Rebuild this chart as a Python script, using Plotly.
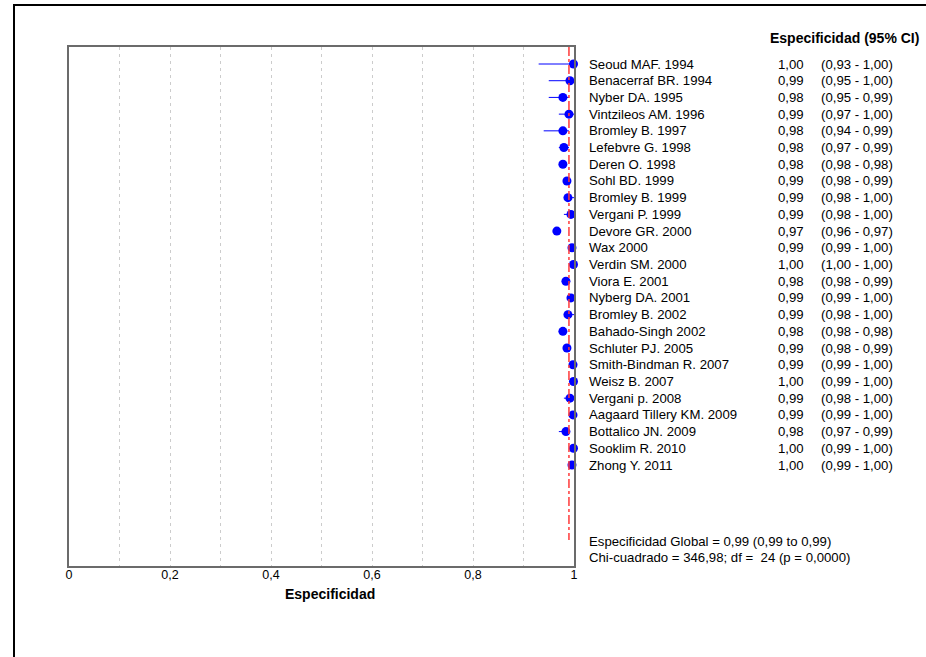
import plotly.graph_objects as go

studies = ["Seoud MAF. 1994", "Benacerraf BR. 1994", "Nyber DA. 1995", "Vintzileos AM. 1996",
           "Bromley B. 1997", "Lefebvre G. 1998", "Deren O. 1998", "Sohl BD. 1999",
           "Bromley B. 1999", "Vergani P. 1999", "Devore GR. 2000", "Wax 2000",
           "Verdin SM. 2000", "Viora E. 2001", "Nyberg DA. 2001", "Bromley B. 2002",
           "Bahado-Singh 2002", "Schluter PJ. 2005", "Smith-Bindman R. 2007", "Weisz B. 2007",
           "Vergani p. 2008", "Aagaard Tillery KM. 2009", "Bottalico JN. 2009", "Sooklim R. 2010",
           "Zhong Y. 2011"]
# point estimates as drawn
spec = [0.999, 0.992, 0.978, 0.990, 0.978, 0.980, 0.978, 0.986, 0.988, 0.994, 0.966, 0.996,
        0.999, 0.984, 0.994, 0.988, 0.978, 0.986, 0.998, 0.999, 0.992, 0.998, 0.984, 0.999, 0.996]
ci_low = [0.93, 0.95, 0.95, 0.97, 0.94, 0.97, 0.98, 0.98, 0.98, 0.98, 0.96, 0.99,
          1.00, 0.98, 0.99, 0.98, 0.98, 0.98, 0.99, 0.99, 0.98, 0.99, 0.97, 0.99, 0.99]
ci_high = [1.00, 1.00, 0.99, 1.00, 0.99, 0.99, 0.98, 0.99, 1.00, 1.00, 0.97, 1.00,
           1.00, 0.99, 1.00, 1.00, 0.98, 0.99, 1.00, 1.00, 1.00, 1.00, 0.99, 1.00, 1.00]
spec_text = ["1,00", "0,99", "0,98", "0,99", "0,98", "0,98", "0,98", "0,99", "0,99", "0,99",
             "0,97", "0,99", "1,00", "0,98", "0,99", "0,99", "0,98", "0,99", "0,99", "1,00",
             "0,99", "0,99", "0,98", "1,00", "1,00"]
ci_text = ["(0,93 - 1,00)", "(0,95 - 1,00)", "(0,95 - 0,99)", "(0,97 - 1,00)", "(0,94 - 0,99)",
           "(0,97 - 0,99)", "(0,98 - 0,98)", "(0,98 - 0,99)", "(0,98 - 1,00)", "(0,98 - 1,00)",
           "(0,96 - 0,97)", "(0,99 - 1,00)", "(1,00 - 1,00)", "(0,98 - 0,99)", "(0,99 - 1,00)",
           "(0,98 - 1,00)", "(0,98 - 0,98)", "(0,98 - 0,99)", "(0,99 - 1,00)", "(0,99 - 1,00)",
           "(0,98 - 1,00)", "(0,99 - 1,00)", "(0,97 - 0,99)", "(0,99 - 1,00)", "(0,99 - 1,00)"]
pooled = 0.99
tick_vals = [0, 0.2, 0.4, 0.6, 0.8, 1]
tick_text = ["0", "0,2", "0,4", "0,6", "0,8", "1"]
header = "Especificidad (95% CI)"
footer1 = "Especificidad Global = 0,99 (0,99 to 0,99)"
footer2 = "Chi-cuadrado = 346,98; df =\u00a0\u00a024 (p = 0,0000)"
xtitle = "Especificidad"

W, H = 926, 657
L, R, T, B = 69, 574, 47, 566
pw, ph = R - L, B - T
row0, rowN = 64, 465
step = (rowN - row0) / (len(studies) - 1)
ytop = -(row0 - T) / step
ybot = ytop + ph / step

def px_x(p):
    return (p - L) / pw

def px_y(p):
    return (B - p) / ph

FONT = "Liberation Sans"
FS = 13.2
y_idx = list(range(len(studies)))

fig = go.Figure()
fig.add_trace(go.Scatter(
    x=spec, y=y_idx, mode="markers",
    marker=dict(color="#0000ff", size=9, symbol="circle"),
    error_x=dict(type="data", symmetric=False,
                 array=[max(h - s, 0) for h, s in zip(ci_high, spec)],
                 arrayminus=[max(s - l, 0) for s, l in zip(spec, ci_low)],
                 color="#0000ff", thickness=1, width=0),
    cliponaxis=False, showlegend=False, hoverinfo="skip"))

shapes = [
    dict(type="line", xref="x", yref="y", x0=pooled, x1=pooled, y0=ytop,
         y1=ytop + (540 - T) / step, line=dict(color="#ff3a3a", width=1.5, dash="dashdot"),
         layer="above"),
    dict(type="line", xref="paper", yref="paper", x0=px_x(13), x1=px_x(W), y0=px_y(5), y1=px_y(5),
         line=dict(color="black", width=2)),
    dict(type="line", xref="paper", yref="paper", x0=px_x(14), x1=px_x(14), y0=px_y(4), y1=px_y(H),
         line=dict(color="black", width=2)),
]

ann = []
for i, (n, st, ct) in enumerate(zip(studies, spec_text, ci_text)):
    ann.append(dict(x=px_x(587), y=i, xref="paper", yref="y", text=n, showarrow=False,
                    xanchor="left", yanchor="middle"))
    ann.append(dict(x=px_x(806), y=i, xref="paper", yref="y", text=st, showarrow=False,
                    xanchor="right", yanchor="middle"))
    ann.append(dict(x=px_x(819), y=i, xref="paper", yref="y", text=ct, showarrow=False,
                    xanchor="left", yanchor="middle"))
ann.append(dict(x=px_x(921), y=px_y(38), xref="paper", yref="paper", text="<b>" + header + "</b>",
                showarrow=False, xanchor="right", yanchor="middle", font=dict(size=14)))
ann.append(dict(x=px_x(587), y=px_y(541), xref="paper", yref="paper", text=footer1,
                showarrow=False, xanchor="left", yanchor="middle"))
ann.append(dict(x=px_x(587), y=px_y(557), xref="paper", yref="paper", text=footer2,
                showarrow=False, xanchor="left", yanchor="middle"))
ann.append(dict(x=px_x(330), y=px_y(594), xref="paper", yref="paper", text="<b>" + xtitle + "</b>",
                showarrow=False, xanchor="center", yanchor="middle", font=dict(size=14)))

fig.update_layout(
    width=W, height=H, margin=dict(l=L, r=W - R, t=T, b=H - B, autoexpand=False),
    paper_bgcolor="white", plot_bgcolor="white",
    font=dict(family=FONT, size=FS, color="black"),
    shapes=shapes, annotations=ann,
    xaxis=dict(range=[0, 1], tickvals=tick_vals, ticktext=tick_text, showgrid=False,
               zeroline=False, showline=True, linecolor="#6b6b6b", linewidth=2, mirror=True,
               ticks="", ticklen=0, ticklabelstandoff=-4,
               minor=dict(dtick=0.1, tick0=0, showgrid=True, gridcolor="#cccccc",
                          griddash="3px,4px", gridwidth=1),
               tickfont=dict(family=FONT, size=12.5)),
    yaxis=dict(range=[ybot, ytop], showticklabels=False, showgrid=False, zeroline=False,
               showline=True, linecolor="#6b6b6b", linewidth=2, mirror=True, ticks=""),
)

fig.write_html("out.html", config={"displayModeBar": False},
               post_script="document.body.style.margin='0';document.body.style.overflow='hidden';")
